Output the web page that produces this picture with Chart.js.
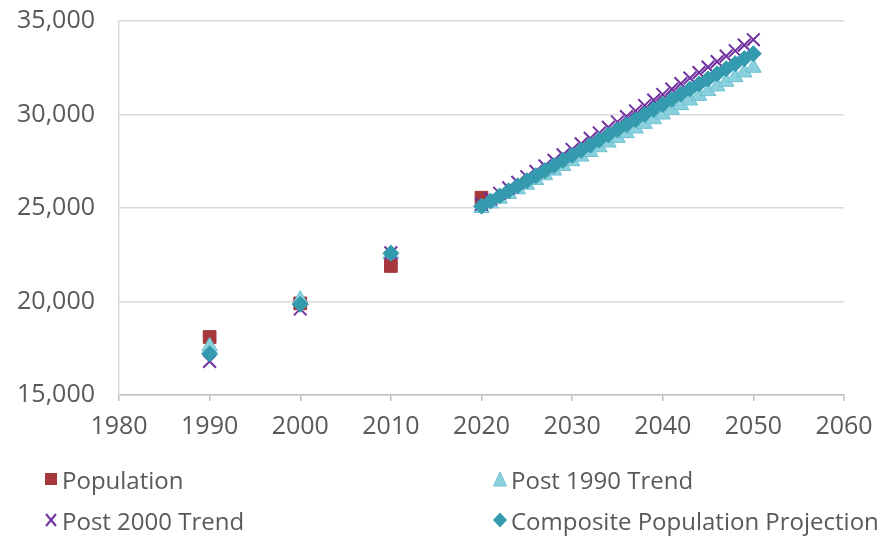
<!DOCTYPE html>
<html>
<head>
<meta charset="utf-8">
<script src="https://cdn.jsdelivr.net/npm/chart.js@4.4.0/dist/chart.umd.min.js"></script>
<style>
  html, body { margin: 0; padding: 0; background: #ffffff; }
  #wrap { position: relative; width: 884px; height: 536px; overflow: hidden; }
  #legend { position: absolute; left: 0; top: 0; width: 884px; height: 536px; pointer-events: none;
            font-family: "Open Sans", "Lato", sans-serif; font-size: 24px; color: #595959; }
  .item { position: absolute; display: flex; align-items: center; white-space: nowrap; }
  .item svg { margin-right: 3px; }
</style>
</head>
<body>
<div id="wrap">
  <canvas id="c" width="884" height="536"></canvas>
  <div id="legend"></div>
</div>
<script>
// ---- Data ----
const histYears = [1990, 2000, 2010, 2020];
const population = [18100, 19900, 21900, 25550];

const trendYears = [1990, 2000, 2010,
  2020, 2021, 2022, 2023, 2024, 2025, 2026, 2027, 2028, 2029,
  2030, 2031, 2032, 2033, 2034, 2035, 2036, 2037, 2038, 2039,
  2040, 2041, 2042, 2043, 2044, 2045, 2046, 2047, 2048, 2049, 2050];

const post1990Trend = [17600, 20100, 22550,
  25000, 25250, 25500, 25750, 26000, 26250, 26500, 26750, 27000, 27250,
  27500, 27750, 28000, 28250, 28500, 28750, 29000, 29250, 29500, 29750,
  30000, 30250, 30500, 30750, 31000, 31250, 31500, 31750, 32000, 32250, 32500];

const post2000Trend = [16800, 19600, 22600,
  25200, 25490, 25790, 26080, 26370, 26670, 26960, 27250, 27550, 27840,
  28130, 28430, 28720, 29010, 29310, 29600, 29890, 30190, 30480, 30770,
  31070, 31360, 31650, 31950, 32240, 32530, 32830, 33120, 33410, 33710, 34000];

const compositeProjection = [17200, 19850, 22580,
  25100, 25370, 25640, 25920, 26190, 26460, 26730, 27000, 27270, 27550,
  27820, 28090, 28360, 28640, 28910, 29180, 29450, 29720, 30000, 30270,
  30540, 30810, 31090, 31360, 31630, 31900, 32180, 32450, 32720, 32990, 33250];

const seriesNames = ["Population", "Post 1990 Trend", "Post 2000 Trend", "Composite Population Projection"];
const xTicks = [1980, 1990, 2000, 2010, 2020, 2030, 2040, 2050, 2060];
const yTicks = [15000, 20000, 25000, 30000, 35000];

// ---- Build ----
const pts = (xs, ys) => xs.map((x, i) => ({ x: x, y: ys[i] }));
const COLORS = {
  pop: '#A5373D',
  p90fill: '#8AD0DD', p90border: '#6CC2D3',
  p00: '#7030A0',
  comp: '#349BAE'
};
const FONT = { family: '"Open Sans", "Lato", sans-serif', size: 25 };

const chart = new Chart(document.getElementById('c'), {
  type: 'scatter',
  data: {
    datasets: [
      { label: seriesNames[0], data: pts(histYears, population), order: 3,
        pointStyle: 'rect', pointRadius: 9, pointHoverRadius: 9,
        backgroundColor: COLORS.pop, borderColor: COLORS.pop, borderWidth: 1 },
      { label: seriesNames[1], data: pts(trendYears, post1990Trend), order: 2,
        pointStyle: 'triangle', pointRadius: 9, pointHoverRadius: 9,
        backgroundColor: COLORS.p90fill, borderColor: COLORS.p90border, borderWidth: 1 },
      { label: seriesNames[2], data: pts(trendYears, post2000Trend), order: 1,
        pointStyle: 'crossRot', pointRadius: 9, pointHoverRadius: 9,
        backgroundColor: COLORS.p00, borderColor: COLORS.p00, borderWidth: 2 },
      { label: seriesNames[3], data: pts(trendYears, compositeProjection), order: 0,
        pointStyle: 'rectRot', pointRadius: 8, pointHoverRadius: 8,
        backgroundColor: COLORS.comp, borderColor: COLORS.comp, borderWidth: 1 }
    ]
  },
  options: {
    responsive: false,
    animation: false,
    devicePixelRatio: 1,
    layout: { padding: { left: 0, right: 40, top: 21, bottom: 101 } },
    plugins: { legend: { display: false }, tooltip: { enabled: false } },
    scales: {
      x: {
        type: 'linear', min: 1980, max: 2060,
        afterBuildTicks: (s) => { s.ticks = xTicks.map(v => ({ value: v })); },
        afterFit: (s) => { s.height = 40; },
        ticks: { color: '#595959', font: FONT, padding: 11, maxRotation: 0,
                 callback: (v) => String(v) },
        grid: { drawOnChartArea: false, drawTicks: true, tickLength: 6, color: '#BFBFBF', lineWidth: 1.5 },
        border: { display: true, color: '#BFBFBF', width: 1.5 }
      },
      y: {
        type: 'linear', min: 15000, max: 35000,
        afterBuildTicks: (s) => { s.ticks = yTicks.map(v => ({ value: v })); },
        afterFit: (s) => { s.width = 119; },
        ticks: { color: '#595959', font: FONT, padding: 4,
                 callback: (v) => v.toLocaleString('en-US') },
        grid: { color: '#D9D9D9', lineWidth: 1.5, drawTicks: true, tickLength: 20,
                tickColor: 'rgba(0,0,0,0)' },
        border: { display: true, color: '#D9D9D9', width: 1.5 }
      }
    }
  }
});

// ---- HTML legend (2 x 2 grid, as in the reference) ----
const markerSvg = [
  '<svg width="16" height="16" viewBox="0 0 16 16"><rect x="2" y="2" width="12" height="12" fill="' + COLORS.pop + '"/></svg>',
  '<svg width="16" height="16" viewBox="0 0 16 16"><polygon points="8,1 14.5,15 1.5,15" fill="' + COLORS.p90fill + '" stroke="' + COLORS.p90border + '" stroke-width="1"/></svg>',
  '<svg width="16" height="16" viewBox="0 0 16 16"><path d="M3,2 L13,14 M13,2 L3,14" stroke="' + COLORS.p00 + '" stroke-width="2"/></svg>',
  '<svg width="16" height="16" viewBox="0 0 16 16"><polygon points="8,0.5 15,8 8,15.5 1,8" fill="' + COLORS.comp + '"/></svg>'
];
const legendPos = [ [43, 479], [492, 479], [43, 520], [492, 520] ];
const lg = document.getElementById('legend');
chart.data.datasets.forEach((ds, i) => {
  const d = document.createElement('div');
  d.className = 'item';
  d.style.left = legendPos[i][0] + 'px';
  d.style.top = (legendPos[i][1] - 16) + 'px';
  d.style.height = '32px';
  d.innerHTML = markerSvg[i] + '<span>' + ds.label + '</span>';
  lg.appendChild(d);
});
</script>
</body>
</html>
